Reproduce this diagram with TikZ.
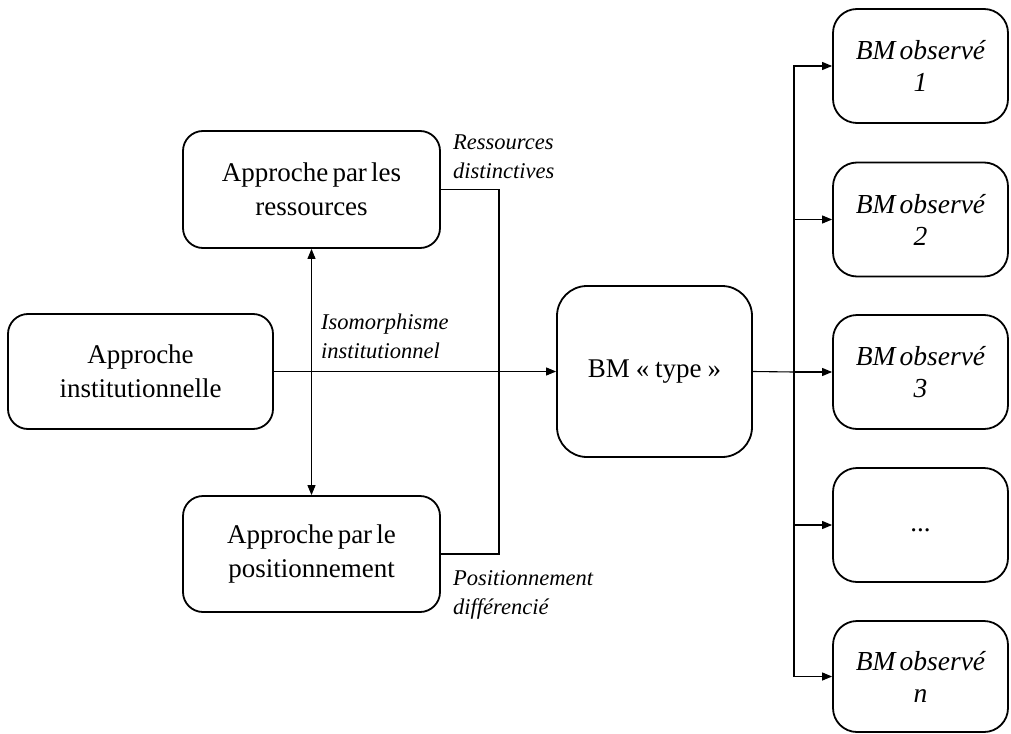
\documentclass[tikz,border=0pt]{standalone}
\usepackage{fontspec}
\setmainfont{Liberation Serif}[WordSpace=0.6]
\usetikzlibrary{arrows.meta}
\begin{document}
\begin{tikzpicture}[x=1pt,y=-1pt,
  box/.style={draw, line width=1.8pt, rounded corners=20pt, align=center,
    inner sep=0pt, font=\fontsize{27}{34}\selectfont},
  obox/.style={box, minimum width=175pt, minimum height=114pt, rounded corners=24pt,
    font=\fontsize{27.5}{32}\selectfont\itshape},
  lab/.style={font=\fontsize{22.5}{29}\selectfont\itshape, align=left, inner sep=0pt, anchor=west},
  conn/.style={line width=1.1pt},
  arr/.style={conn, -{Triangle[length=10pt,width=8pt]}},
  darr/.style={conn, {Triangle[length=10pt,width=8pt]}-{Triangle[length=10pt,width=8pt]}}]
\useasboundingbox (0,0) rectangle (1011,733);

% left column of approaches
\node[box, minimum width=257pt, minimum height=117pt] (res) at (311.5,189.5) {Approche par les\\ressources};
\node[box, minimum width=265pt, minimum height=115pt] (inst) at (140.5,371.5) {Approche\\institutionnelle};
\node[box, minimum width=257pt, minimum height=116pt] (pos) at (311.5,554) {Approche par le\\positionnement};

% central model
\node[box, minimum width=195pt, minimum height=171pt, rounded corners=30pt] (bmt) at (654.5,371.5)
  {BM\hspace{0.22em}«\hspace{0.22em}type\hspace{0.22em}»};

% observed models
\node[obox] (o1) at (920.5,66) {BM observé\\1};
\node[obox] (o2) at (920.5,219.5) {BM observé\\2};
\node[obox] (o3) at (920.5,372) {BM observé\\3};
\node[obox, font=\fontsize{27}{34}\selectfont] (o4) at (920.5,525) {\strut...};
\node[obox, minimum height=111pt] (o5) at (920.5,676.5) {BM observé\\\textit{n}};

% connectors
\coordinate (brk) at (499,372);
\coordinate (bus) at (794,372);
\draw[conn] (res.east) -| (brk) |- (pos.east);
\draw[darr] (res.south) -- (pos.north);
\draw[arr] (inst.east) -- (bmt.west);
\draw[conn] (bmt.east) -- (bus);
\foreach \o in {o1,o2,o3,o4,o5} \draw[arr] (bus) |- (\o.west);

% labels
\node[lab] (lres) at (453,157) {Ressources\\distinctives};
\node[lab] (liso) at (321,336) {Isomorphisme\\institutionnel};
\node[lab] (lpos) at (453,595) {Positionnement\\différencié};
\end{tikzpicture}
\end{document}
